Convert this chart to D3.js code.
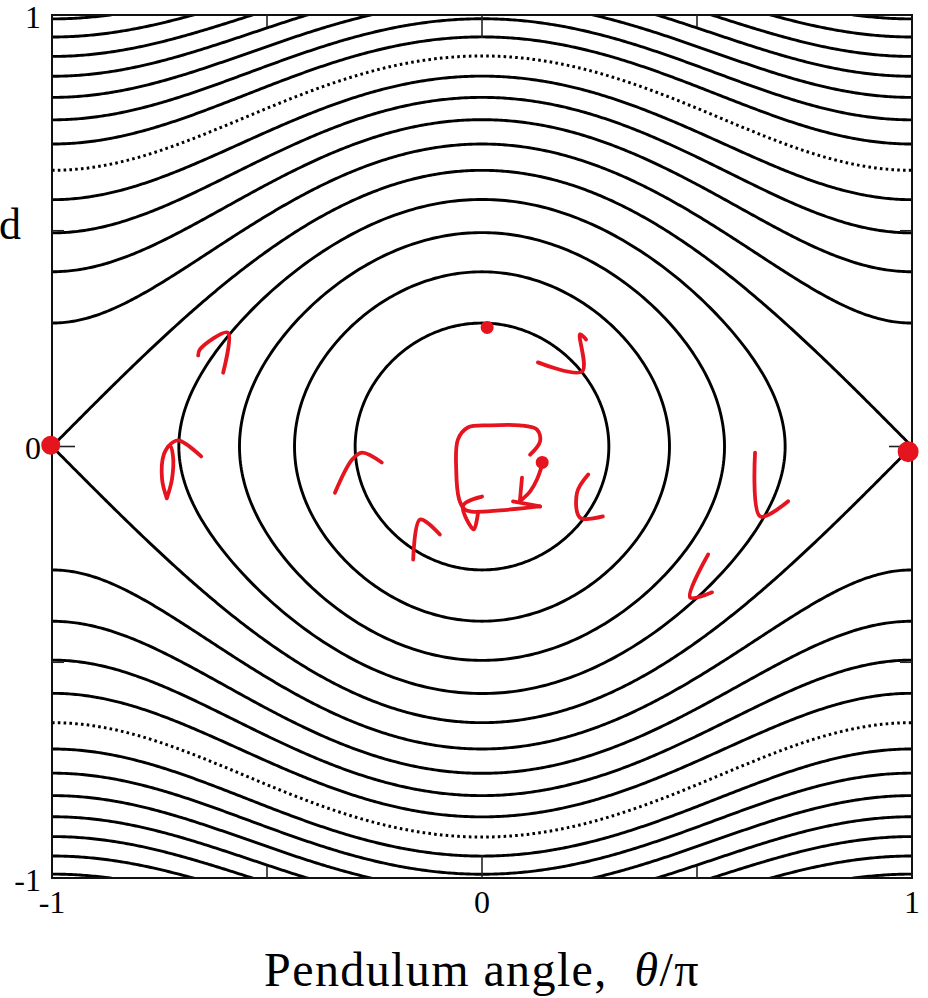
<!DOCTYPE html>
<html>
<head>
<meta charset="utf-8">
<script src="https://cdn.jsdelivr.net/npm/d3@7"></script>
<style>
  body { margin: 0; background: #fff; }
  svg { display: block; }
  text { font-family: "Liberation Serif", "DejaVu Serif", serif; fill: #000; }
</style>
</head>
<body>
<svg id="chart" width="928" height="998"></svg>
<script>
// pendulum phase portrait, speed normalised so the frame spans -1..1
const separatrixPeak = 0.64;                       // speed of the separatrix at theta = 0
const librationAmplitudes = [0.295, 0.436, 0.564, 0.705];   // closed orbits, turning angle theta0/pi
const rotationEdgeSpeeds = [0.286, 0.405, 0.495, 0.572, 0.640, 0.701, 0.757, 0.809, 0.858, 0.904, 0.949, 0.991]; // open orbits, speed at theta = +-pi
const dottedEdgeSpeeds = [0.640];

const xTicks = [-1, -0.5, 0, 0.5, 1];
const xTickLabels = ["-1", "", "0", "", "1"];
const yTicks = [-1, -0.5, 0, 0.5, 1];
const yTickLabels = ["-1", "", "0", "", "1"];

// red pen marks drawn over the figure, in data units
const penStrokes = [
  [[0.130, 0.195], [0.233, 0.174], [0.228, 0.260], [0.242, 0.248]],
  [[0.247, -0.065], [0.221, -0.107], [0.228, -0.165], [0.281, -0.162]],
  [[0.635, -0.014], [0.647, -0.162], [0.712, -0.127]],
  [[0.526, -0.250], [0.484, -0.350], [0.535, -0.338]],
  [[-0.602, 0.171], [-0.591, 0.264], [-0.656, 0.225], [-0.660, 0.211]],
  [[-0.733, -0.120], [-0.744, -0.076], [-0.740, -0.019], [-0.726, 0.002], [-0.719, -0.019], [-0.721, -0.076], [-0.733, -0.120]],
  [[-0.730, 0.000], [-0.707, 0.014], [-0.653, -0.023]],
  [[-0.342, -0.107], [-0.302, -0.030], [-0.279, -0.014], [-0.233, -0.037]],
  [[-0.160, -0.262], [-0.144, -0.169], [-0.098, -0.204]],
  [[0.112, -0.019], [0.135, 0.012], [0.128, 0.039], [0.088, 0.049], [0.019, 0.049], [-0.033, 0.044], [-0.056, 0.016],
   [-0.060, -0.053], [-0.053, -0.123], [-0.040, -0.146], [-0.023, -0.151], [0.042, -0.148], [0.135, -0.139]],
  [[0.000, -0.116], [-0.044, -0.137], [-0.019, -0.192], [-0.009, -0.151]],
  [[0.140, -0.042], [0.128, -0.076], [0.112, -0.104], [0.088, -0.127]],
  [[0.093, -0.072], [0.088, -0.127]],
  [[0.072, -0.127], [0.135, -0.139]]
];
const penDots = [
  {x: 0.140, y: -0.037, r: 5},
  {x: 0.012, y: 0.276, r: 5},
  {x: -1.003, y: 0.003, r: 8},
  {x: 0.991, y: -0.012, r: 9}
];

const svg = d3.select("#chart");
const margin = {left: 52, right: 16, top: 15, bottom: 120};
const width = 928, height = 998;

const x = d3.scaleLinear().domain([-1, 1]).range([margin.left, width - margin.right]);
const y = d3.scaleLinear().domain([-1, 1]).range([height - margin.bottom, margin.top]);

svg.append("defs").append("clipPath").attr("id", "plot-clip")
  .append("rect")
  .attr("x", x(-1)).attr("y", y(1))
  .attr("width", x(1) - x(-1)).attr("height", y(-1) - y(1));

const line = d3.line().x(d => x(d[0])).y(d => y(d[1]));
const half = v => Math.sin(Math.PI * v / 2);
const steps = d3.range(0, 401).map(i => i / 400);

const plot = svg.append("g").attr("clip-path", "url(#plot-clip)");

// closed orbits, parametrised so the turning points stay smooth
librationAmplitudes.forEach(a => {
  const m = half(a);
  const pts = steps.map(t => {
    const phi = t * 2 * Math.PI;
    return [2 / Math.PI * Math.asin(m * Math.sin(phi)), separatrixPeak * m * Math.cos(phi)];
  });
  plot.append("path").attr("class", "orbit")
    .attr("d", line(pts));
});

// separatrix
[1, -1].forEach(sgn => {
  const pts = steps.map(t => {
    const th = -1 + 2 * t;
    return [th, sgn * separatrixPeak * Math.cos(Math.PI * th / 2)];
  });
  plot.append("path").attr("class", "orbit").attr("d", line(pts));
});

// rotating orbits, above and below
rotationEdgeSpeeds.forEach(v => {
  const dotted = dottedEdgeSpeeds.includes(v);
  [1, -1].forEach(sgn => {
    const pts = steps.map(t => {
      const th = -1 + 2 * t;
      const c = Math.cos(Math.PI * th / 2);
      return [th, sgn * Math.sqrt(v * v + separatrixPeak * separatrixPeak * c * c)];
    });
    plot.append("path").attr("class", dotted ? "orbit dotted" : "orbit").attr("d", line(pts));
  });
});

plot.selectAll("path.orbit")
  .attr("fill", "none")
  .attr("stroke", "#000")
  .attr("stroke-width", 2.9)
  .attr("stroke-linejoin", "round");
plot.selectAll("path.dotted")
  .attr("stroke-width", 3)
  .attr("stroke-dasharray", "2.6,3.2");

// frame and inward ticks
const frame = svg.append("g");
frame.append("rect")
  .attr("x", x(-1)).attr("y", y(1))
  .attr("width", x(1) - x(-1)).attr("height", y(-1) - y(1))
  .attr("fill", "none").attr("stroke", "#111").attr("stroke-width", 2);

const tickLen = v => (v === 0 ? 23 : 12);
xTicks.filter(v => Math.abs(v) < 1).forEach(v => {
  frame.append("line").attr("x1", x(v)).attr("x2", x(v)).attr("y1", y(-1)).attr("y2", y(-1) - tickLen(v));
  frame.append("line").attr("x1", x(v)).attr("x2", x(v)).attr("y1", y(1)).attr("y2", y(1) + tickLen(v));
});
yTicks.filter(v => Math.abs(v) < 1).forEach(v => {
  frame.append("line").attr("y1", y(v)).attr("y2", y(v)).attr("x1", x(-1)).attr("x2", x(-1) + tickLen(v));
  frame.append("line").attr("y1", y(v)).attr("y2", y(v)).attr("x1", x(1)).attr("x2", x(1) - tickLen(v));
});
frame.selectAll("line").attr("stroke", "#222").attr("stroke-width", 1.6);

svg.append("g").selectAll("text")
  .data(xTicks)
  .join("text")
  .attr("x", d => x(d))
  .attr("y", y(-1) + 35)
  .attr("text-anchor", "middle")
  .attr("font-size", 32)
  .text((d, i) => xTickLabels[i]);

svg.append("g").selectAll("text")
  .data(yTicks)
  .join("text")
  .attr("x", x(-1) - 11)
  .attr("y", d => y(d) + 12.5)
  .attr("text-anchor", "end")
  .attr("font-size", 32)
  .text((d, i) => yTickLabels[i]);

// axis titles
const xTitle = svg.append("text")
  .attr("x", x(0))
  .attr("y", 986)
  .attr("text-anchor", "middle")
  .attr("font-size", 48)
  .attr("letter-spacing", 1.4);
xTitle.append("tspan").text("Pendulum angle,\u00a0\u00a0");
xTitle.append("tspan").attr("font-style", "italic").text("θ");
xTitle.append("tspan").text("/π");

svg.append("text")
  .attr("x", 21)
  .attr("y", y(0.48))
  .attr("text-anchor", "end")
  .attr("font-size", 44)
  .text("Angular speed");

// red pen marks
const pen = d3.line().x(d => x(d[0])).y(d => y(d[1])).curve(d3.curveCatmullRom.alpha(0.5));
const marks = svg.append("g");
marks.selectAll("path")
  .data(penStrokes)
  .join("path")
  .attr("d", pen)
  .attr("fill", "none")
  .attr("stroke", "#e5141f")
  .attr("stroke-width", 3.8)
  .attr("stroke-linecap", "round")
  .attr("stroke-linejoin", "round");
marks.selectAll("circle")
  .data(penDots)
  .join("circle")
  .attr("cx", d => x(d.x))
  .attr("cy", d => y(d.y))
  .attr("r", d => d.r)
  .attr("fill", "#e5141f")
  .attr("stroke", "#e5141f")
  .attr("stroke-width", 3);
</script>
</body>
</html>
